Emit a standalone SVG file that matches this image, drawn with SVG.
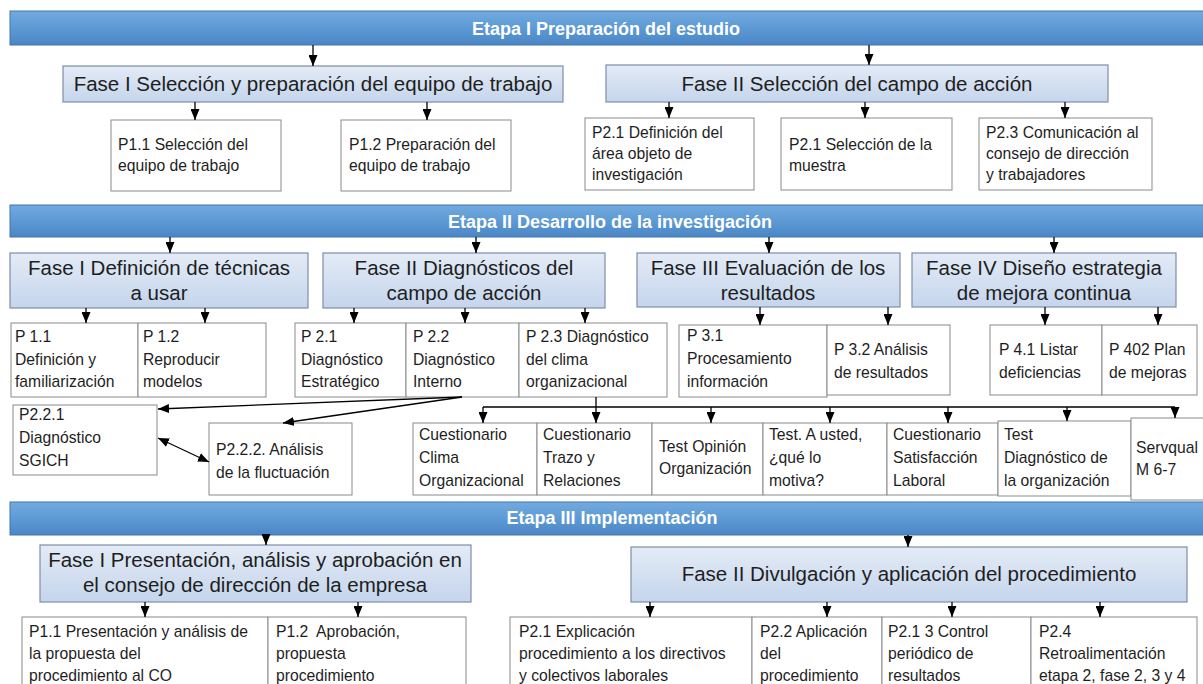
<svg xmlns="http://www.w3.org/2000/svg" width="1203" height="684" viewBox="0 0 1203 684">
  <defs>
    <linearGradient id="bannerFill" x1="0" y1="0" x2="0" y2="1">
      <stop offset="0" stop-color="#72aadf"/>
      <stop offset="0.55" stop-color="#5b98d3"/>
      <stop offset="1" stop-color="#4a86c4"/>
    </linearGradient>
    <linearGradient id="phaseFill" x1="0" y1="0" x2="0" y2="1">
      <stop offset="0" stop-color="#e3ebf6"/>
      <stop offset="1" stop-color="#c5d5ec"/>
    </linearGradient>
    <marker id="head" viewBox="0 0 11 9" refX="11" refY="4.5" markerWidth="11" markerHeight="9" markerUnits="userSpaceOnUse" orient="auto-start-reverse">
      <path d="M0,0 L11,4.5 L0,9 z" fill="#000"/>
    </marker>
    <style>
      .banner rect { fill: url(#bannerFill); stroke: #4277ad; stroke-width: 1; }
      .banner text { font-family: "Liberation Sans", Arial, sans-serif; font-weight: bold; font-size: 18px; fill: #ffffff; text-anchor: middle; }
      .phase rect { fill: url(#phaseFill); stroke: #7d8ea8; stroke-width: 1.2; }
      .phase text { font-family: "Liberation Sans", Arial, sans-serif; font-size: 20.5px; fill: #1e1e1e; text-anchor: middle; }
      .step rect { fill: #ffffff; stroke: #8a8a8a; stroke-width: 1; }
      .step text { font-family: "Liberation Sans", Arial, sans-serif; font-size: 15.7px; fill: #1e1e1e; }
      .links path { fill: none; stroke: #000; stroke-width: 1.3; }
      .links .arrow { marker-end: url(#head); }
      .links .both { marker-start: url(#head); marker-end: url(#head); }
    </style>
  </defs>

  <rect width="1203" height="684" fill="#ffffff"/>

  <!-- Stage I -->
  <g id="etapa1" class="banner">
    <rect x="10" y="11" width="1195" height="34"/>
    <text x="606" y="35">Etapa I Preparación del estudio</text>
  </g>
  <g id="e1-fase1" class="phase">
    <rect x="63" y="66" width="500" height="36"/>
    <text x="313" y="91">Fase I Selección y preparación del equipo de trabajo</text>
  </g>
  <g id="e1-fase2" class="phase">
    <rect x="606" y="65" width="502" height="37"/>
    <text x="857" y="91">Fase II Selección del campo de acción</text>
  </g>
  <g id="e1-p11" class="step">
    <rect x="111" y="120" width="170" height="71"/>
    <text x="118" y="150">P1.1 Selección del</text>
    <text x="118" y="171">equipo de trabajo</text>
  </g>
  <g id="e1-p12" class="step">
    <rect x="341" y="120" width="170" height="71"/>
    <text x="349" y="150">P1.2 Preparación del</text>
    <text x="349" y="171">equipo de trabajo</text>
  </g>
  <g id="e1-p21" class="step">
    <rect x="585" y="118" width="169" height="72"/>
    <text x="592" y="138">P2.1 Definición del</text>
    <text x="592" y="159">área objeto de</text>
    <text x="592" y="180">investigación</text>
  </g>
  <g id="e1-p22" class="step">
    <rect x="781" y="118" width="171" height="72"/>
    <text x="789" y="150">P2.1 Selección de la</text>
    <text x="789" y="171">muestra</text>
  </g>
  <g id="e1-p23" class="step">
    <rect x="979" y="118" width="173" height="72"/>
    <text x="986" y="138">P2.3 Comunicación al</text>
    <text x="986" y="159">consejo de dirección</text>
    <text x="986" y="180">y trabajadores</text>
  </g>

  <!-- Stage II -->
  <g id="etapa2" class="banner">
    <rect x="10" y="205" width="1195" height="32"/>
    <text x="610" y="228">Etapa II Desarrollo de la investigación</text>
  </g>
  <g id="e2-fase1" class="phase">
    <rect x="10" y="253" width="298" height="55"/>
    <text x="159" y="275">Fase I Definición de técnicas</text>
    <text x="159" y="300">a usar</text>
  </g>
  <g id="e2-fase2" class="phase">
    <rect x="323" y="253" width="282" height="55"/>
    <text x="464" y="275">Fase II Diagnósticos del</text>
    <text x="464" y="300">campo de acción</text>
  </g>
  <g id="e2-fase3" class="phase">
    <rect x="637" y="253" width="263" height="54"/>
    <text x="768" y="275">Fase III Evaluación de los</text>
    <text x="768" y="300">resultados</text>
  </g>
  <g id="e2-fase4" class="phase">
    <rect x="912" y="253" width="264" height="54"/>
    <text x="1044" y="275">Fase IV Diseño estrategia</text>
    <text x="1044" y="300">de mejora continua</text>
  </g>
  <g id="e2-p11" class="step">
    <rect x="11" y="323" width="127" height="74"/>
    <text x="15" y="342">P 1.1</text>
    <text x="15" y="365">Definición y</text>
    <text x="15" y="387">familiarización</text>
  </g>
  <g id="e2-p12" class="step">
    <rect x="138" y="323" width="128" height="74"/>
    <text x="143" y="342">P 1.2</text>
    <text x="143" y="365">Reproducir</text>
    <text x="143" y="387">modelos</text>
  </g>
  <g id="e2-p21" class="step">
    <rect x="295" y="323" width="111" height="74"/>
    <text x="301" y="342">P 2.1</text>
    <text x="301" y="365">Diagnóstico</text>
    <text x="301" y="387">Estratégico</text>
  </g>
  <g id="e2-p22" class="step">
    <rect x="406" y="323" width="113" height="74"/>
    <text x="413" y="342">P 2.2</text>
    <text x="413" y="365">Diagnóstico</text>
    <text x="413" y="387">Interno</text>
  </g>
  <g id="e2-p23" class="step">
    <rect x="519" y="323" width="148" height="74"/>
    <text x="526" y="342">P 2.3 Diagnóstico</text>
    <text x="526" y="365">del clima</text>
    <text x="526" y="387">organizacional</text>
  </g>
  <g id="e2-p31" class="step">
    <rect x="679" y="325" width="148" height="72"/>
    <text x="687" y="341">P 3.1</text>
    <text x="687" y="364">Procesamiento</text>
    <text x="687" y="387">información</text>
  </g>
  <g id="e2-p32" class="step">
    <rect x="827" y="325" width="123" height="70"/>
    <text x="834" y="355">P 3.2 Análisis</text>
    <text x="834" y="378">de resultados</text>
  </g>
  <g id="e2-p41" class="step">
    <rect x="990" y="325" width="112" height="70"/>
    <text x="999" y="355">P 4.1 Listar</text>
    <text x="999" y="378">deficiencias</text>
  </g>
  <g id="e2-p42" class="step">
    <rect x="1102" y="325" width="95" height="70"/>
    <text x="1109" y="355">P 402 Plan</text>
    <text x="1109" y="378">de mejoras</text>
  </g>

  <!-- Breakdown of P 2.2 and P 2.3 -->
  <g id="p221" class="step">
    <rect x="13" y="405" width="144" height="70"/>
    <text x="19" y="420">P2.2.1</text>
    <text x="19" y="443">Diagnóstico</text>
    <text x="19" y="466">SGICH</text>
  </g>
  <g id="p222" class="step">
    <rect x="209" y="423" width="143" height="72"/>
    <text x="216" y="455">P2.2.2. Análisis</text>
    <text x="216" y="478">de la fluctuación</text>
  </g>
  <g id="t-clima" class="step">
    <rect x="413" y="423" width="124" height="72"/>
    <text x="419" y="440">Cuestionario</text>
    <text x="419" y="463">Clima</text>
    <text x="419" y="486">Organizacional</text>
  </g>
  <g id="t-trazo" class="step">
    <rect x="537" y="423" width="115" height="72"/>
    <text x="543" y="440">Cuestionario</text>
    <text x="543" y="463">Trazo y</text>
    <text x="543" y="486">Relaciones</text>
  </g>
  <g id="t-opinion" class="step">
    <rect x="652" y="423" width="111" height="72"/>
    <text x="659" y="452">Test Opinión</text>
    <text x="659" y="474">Organización</text>
  </g>
  <g id="t-motiva" class="step">
    <rect x="763" y="423" width="124" height="72"/>
    <text x="769" y="440">Test. A usted,</text>
    <text x="769" y="463">¿qué lo</text>
    <text x="769" y="486">motiva?</text>
  </g>
  <g id="t-satisf" class="step">
    <rect x="887" y="423" width="111" height="72"/>
    <text x="893" y="440">Cuestionario</text>
    <text x="893" y="463">Satisfacción</text>
    <text x="893" y="486">Laboral</text>
  </g>
  <g id="t-diag" class="step">
    <rect x="998" y="421" width="133" height="75"/>
    <text x="1004" y="440">Test</text>
    <text x="1004" y="463">Diagnóstico de</text>
    <text x="1004" y="486">la organización</text>
  </g>
  <g id="t-servqual" class="step">
    <rect x="1131" y="418" width="75" height="82"/>
    <text x="1136" y="453">Servqual</text>
    <text x="1136" y="475">M 6-7</text>
  </g>

  <!-- Stage III -->
  <g id="etapa3" class="banner">
    <rect x="10" y="502" width="1195" height="33"/>
    <text x="612" y="524">Etapa III Implementación</text>
  </g>
  <g id="e3-fase1" class="phase">
    <rect x="40" y="545" width="431" height="57"/>
    <text x="255" y="567">Fase I Presentación, análisis y aprobación en</text>
    <text x="255" y="592">el consejo de dirección de la empresa</text>
  </g>
  <g id="e3-fase2" class="phase">
    <rect x="631" y="547" width="556" height="55"/>
    <text x="909" y="581">Fase II Divulgación y aplicación del procedimiento</text>
  </g>
  <g id="e3-p11" class="step">
    <rect x="22" y="617" width="246" height="80"/>
    <text x="29" y="637">P1.1 Presentación y análisis de</text>
    <text x="29" y="659">la propuesta del</text>
    <text x="29" y="681">procedimiento al CO</text>
  </g>
  <g id="e3-p12" class="step">
    <rect x="268" y="617" width="198" height="80"/>
    <text x="276" y="637" xml:space="preserve">P1.2  Aprobación,</text>
    <text x="276" y="659">propuesta</text>
    <text x="276" y="681">procedimiento</text>
  </g>
  <g id="e3-p21" class="step">
    <rect x="510" y="617" width="242" height="80"/>
    <text x="519" y="637">P2.1 Explicación</text>
    <text x="519" y="659">procedimiento a los directivos</text>
    <text x="519" y="681">y colectivos laborales</text>
  </g>
  <g id="e3-p22" class="step">
    <rect x="752" y="617" width="130" height="80"/>
    <text x="760" y="637">P2.2 Aplicación</text>
    <text x="760" y="659">del</text>
    <text x="760" y="681">procedimiento</text>
  </g>
  <g id="e3-p23" class="step">
    <rect x="882" y="617" width="149" height="80"/>
    <text x="888" y="637">P2.1 3 Control</text>
    <text x="888" y="659">periódico de</text>
    <text x="888" y="681">resultados</text>
  </g>
  <g id="e3-p24" class="step">
    <rect x="1031" y="617" width="166" height="80"/>
    <text x="1039" y="637">P2.4</text>
    <text x="1039" y="659">Retroalimentación</text>
    <text x="1039" y="681">etapa 2, fase 2, 3 y 4</text>
  </g>

  <!-- Connectors -->
  <g id="connectors" class="links">
    <path class="arrow" d="M313,45 V66"/>
    <path class="arrow" d="M869,45 V65"/>
    <path class="arrow" d="M195,102 V120"/>
    <path class="arrow" d="M427,102 V120"/>
    <path class="arrow" d="M669,102 V118"/>
    <path class="arrow" d="M865,102 V118"/>
    <path class="arrow" d="M1065,102 V118"/>

    <path class="arrow" d="M170,237 V253"/>
    <path class="arrow" d="M476,237 V253"/>
    <path class="arrow" d="M769,237 V253"/>
    <path class="arrow" d="M1054,237 V253"/>
    <path class="arrow" d="M86,308 V323"/>
    <path class="arrow" d="M205,308 V323"/>
    <path class="arrow" d="M354,308 V323"/>
    <path class="arrow" d="M465,308 V323"/>
    <path class="arrow" d="M585,308 V323"/>
    <path class="arrow" d="M760,307 V325"/>
    <path class="arrow" d="M888,307 V325"/>
    <path class="arrow" d="M1045,307 V325"/>
    <path class="arrow" d="M1158,307 V325"/>

    <path class="arrow" d="M462,397 L158,409"/>
    <path class="arrow" d="M462,397 L283,423"/>
    <path class="both" d="M158,438 L209,462"/>

    <path d="M596,397 V407 M483,407 H1175"/>
    <path class="arrow" d="M483,407 V423"/>
    <path class="arrow" d="M596,407 V423"/>
    <path class="arrow" d="M711,407 V423"/>
    <path class="arrow" d="M830,407 V423"/>
    <path class="arrow" d="M948,407 V423"/>
    <path class="arrow" d="M1067,407 V421"/>
    <path class="arrow" d="M1175,407 V418"/>

    <path class="arrow" d="M266,535 V545"/>
    <path class="arrow" d="M908,535 V547"/>
    <path class="arrow" d="M145,602 V617"/>
    <path class="arrow" d="M358,602 V617"/>
    <path class="arrow" d="M650,602 V617"/>
    <path class="arrow" d="M827,602 V617"/>
    <path class="arrow" d="M952,602 V617"/>
    <path class="arrow" d="M1100,602 V617"/>
  </g>
</svg>
